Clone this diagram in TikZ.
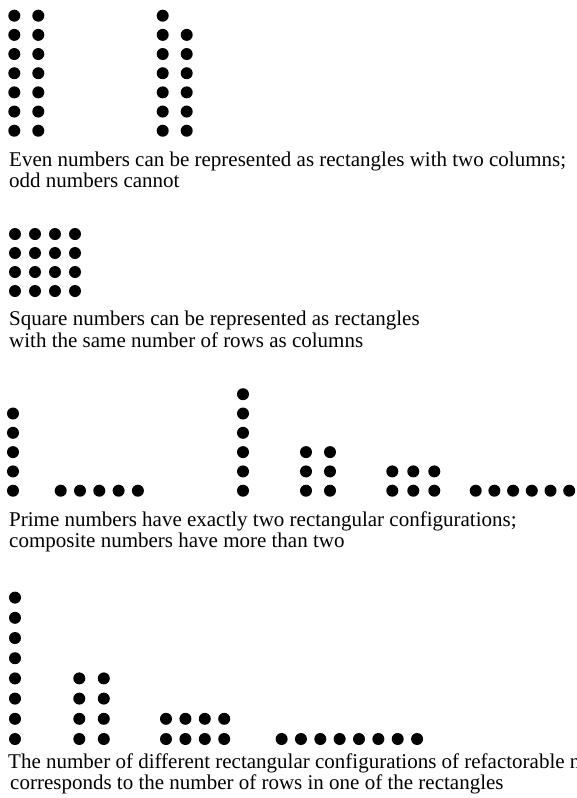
\documentclass[tikz,border=0pt]{standalone}
\usepackage{fontspec}
\setmainfont{Liberation Serif}
\tikzset{
  dot/.style={fill=black},
  caption/.style={anchor=base west, inner sep=0pt, font=\fontsize{21}{22}\selectfont}
}
\begin{document}
\begin{tikzpicture}[x=1pt,y=-1pt]
\useasboundingbox (0,0) rectangle (577,798);
\fill[white] (0,0) rectangle (577,798);
\def\r{6}
% ---- Section 1: even / odd
\foreach \k in {0,...,6} {
  \fill[dot] (14.3,15.7+19.17*\k) circle (\r);
  \fill[dot] (38.3,15.7+19.17*\k) circle (\r);
  \fill[dot] (162.7,15.7+19.17*\k) circle (\r);
}
\foreach \k in {1,...,6} {
  \fill[dot] (186.7,15.7+19.17*\k) circle (\r);
}
\node[caption] (t1a) at (9,166) {Even numbers can be represented as rectangles with two columns;};
\node[caption] (t1b) at (9,187.5) {odd numbers cannot};
% ---- Section 2: square
\foreach \i in {0,...,3} {
  \foreach \j in {0,...,3} {
    \fill[dot] (15+20*\i,234+19*\j) circle (\r);
  }
}
\node[caption] (t2a) at (9,325.5) {Square numbers can be represented as rectangles};
\node[caption] (t2b) at (9,347) {with the same number of rows as columns};
% ---- Section 3: prime / composite
\foreach \k in {0,...,4} {
  \fill[dot] (13,490.7-19.3*\k) circle (\r);
  \fill[dot] (60.7+19.3*\k,490.7) circle (\r);
}
\foreach \k in {0,...,5} {
  \fill[dot] (243,490.7-19.3*\k) circle (\r);
  \fill[dot] (475.7+18.7*\k,490.7) circle (\r);
}
\foreach \k in {0,...,2} {
  \fill[dot] (306,490.7-19.3*\k) circle (\r);
  \fill[dot] (330,490.7-19.3*\k) circle (\r);
}
\foreach \i in {0,...,2} {
  \foreach \k in {0,1} {
    \fill[dot] (392.3+21*\i,490.7-19.3*\k) circle (\r);
  }
}
\node[caption] (t3a) at (9,526) {Prime numbers have exactly two rectangular configurations;};
\node[caption] (t3b) at (9,547.5) {composite numbers have more than two};
% ---- Section 4: refactorable
\def\bot{739}
\def\stp{20.2}
\foreach \k in {0,...,7} {
  \fill[dot] (15,\bot-\stp*\k) circle (\r);
  \fill[dot] (281.6+19.35*\k,\bot) circle (\r);
}
\foreach \k in {0,...,3} {
  \fill[dot] (79.3,\bot-\stp*\k) circle (\r);
  \fill[dot] (103.8,\bot-\stp*\k) circle (\r);
  \fill[dot] (166+19.4*\k,\bot) circle (\r);
  \fill[dot] (166+19.4*\k,\bot-\stp) circle (\r);
}
\node[caption] (t4a) at (8,768) {The number of different rectangular configurations of refactorable numbers};
\node[caption] (t4b) at (10,789.5) {corresponds to the number of rows in one of the rectangles};
\end{tikzpicture}
\end{document}
